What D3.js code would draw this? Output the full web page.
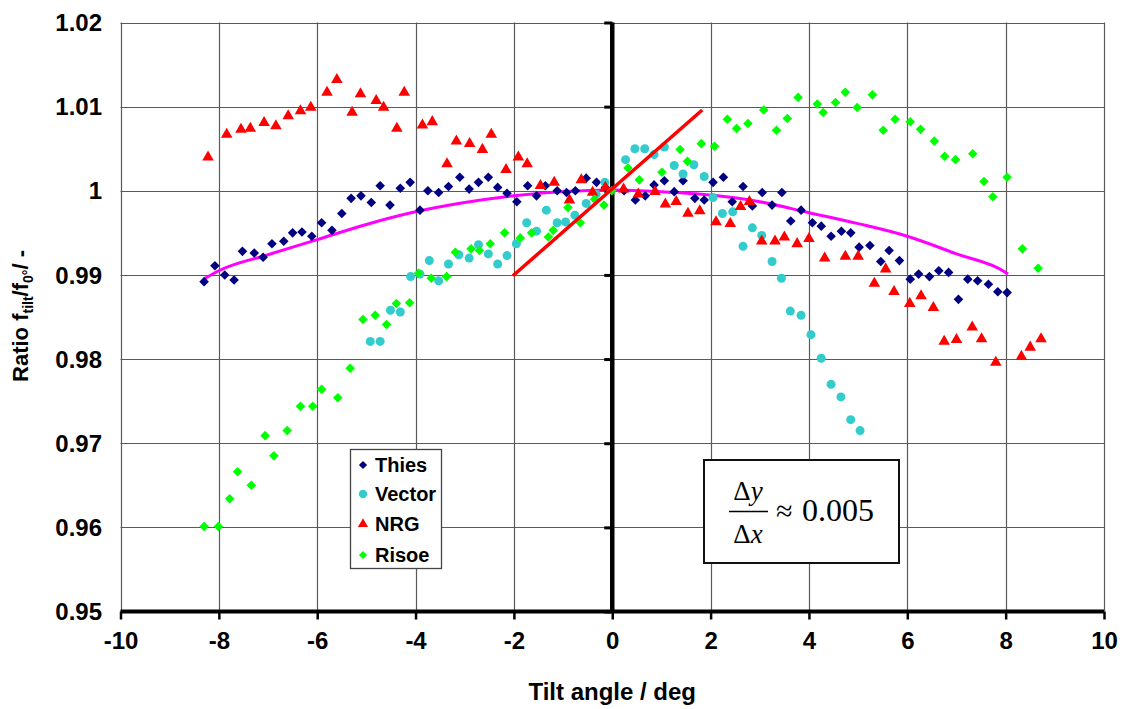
<!DOCTYPE html>
<html>
<head>
<meta charset="utf-8">
<script src="https://d3js.org/d3.v7.min.js"></script>
<style>
  html, body { margin: 0; padding: 0; background: #fff; }
  svg { display: block; }
</style>
</head>
<body>
<svg id="chart" width="1122" height="709"></svg>
<script>
// ---------------- DATA ----------------
const xTicks = [-10, -8, -6, -4, -2, 0, 2, 4, 6, 8, 10];
const yTicks = [0.95, 0.96, 0.97, 0.98, 0.99, 1.0, 1.01, 1.02];
const yTickLabels = ["0.95", "0.96", "0.97", "0.98", "0.99", "1", "1.01", "1.02"];
const seriesNames = ["Thies", "Vector", "NRG", "Risoe"];

const thies = [
  [-8.30,0.9892],[-8.08,0.9911],[-7.88,0.9900],[-7.69,0.9894],[-7.52,0.9928],[-7.28,0.9926],
  [-7.10,0.9921],[-6.92,0.9937],[-6.68,0.9940],[-6.50,0.9950],[-6.31,0.9951],[-6.11,0.9946],
  [-5.91,0.9962],[-5.70,0.9953],[-5.50,0.9973],[-5.31,0.9991],[-5.11,0.9994],[-4.90,0.9986],
  [-4.72,1.0006],[-4.52,0.9983],[-4.31,1.0003],[-4.11,1.0010],[-3.91,0.9977],[-3.75,1.0000],
  [-3.53,0.9998],[-3.33,1.0005],[-3.10,1.0016],[-2.91,1.0002],[-2.72,1.0010],[-2.52,1.0016],
  [-2.33,1.0004],[-2.14,0.9997],[-1.94,0.9987],[-1.72,1.0006],[-1.54,0.9994],[-1.36,1.0006],
  [-1.12,1.0000],[-0.93,0.9998],[-0.75,1.0000],[-0.53,1.0015],[-0.32,1.0010],[-0.14,1.0004],
  [0.24,1.0000],[0.47,0.9989],[0.67,0.9994],[0.85,1.0007],[1.06,1.0012],[1.26,0.9999],
  [1.44,1.0012],[1.68,0.9991],[1.87,0.9989],[2.05,1.0010],[2.26,1.0016],[2.44,0.9987],
  [2.66,1.0005],[2.85,0.9982],[3.05,0.9998],[3.25,0.9983],[3.45,0.9998],[3.63,0.9964],
  [3.84,0.9977],[4.07,0.9962],[4.25,0.9958],[4.45,0.9946],[4.66,0.9952],[4.85,0.9950],
  [5.02,0.9933],[5.24,0.9935],[5.46,0.9916],[5.63,0.9929],[5.84,0.9917],[6.06,0.9895],
  [6.23,0.9901],[6.45,0.9898],[6.64,0.9905],[6.84,0.9903],[7.04,0.9871],[7.23,0.9895],
  [7.43,0.9893],[7.65,0.9889],[7.84,0.9880],[8.03,0.9879]
];

const vector = [
  [-4.92,0.9821],[-4.72,0.9821],[-4.51,0.9858],[-4.31,0.9856],[-4.10,0.9898],[-3.91,0.9901],
  [-3.72,0.9917],[-3.53,0.9893],[-3.33,0.9913],[-3.12,0.9924],[-2.91,0.9920],[-2.72,0.9936],
  [-2.52,0.9925],[-2.33,0.9913],[-2.14,0.9923],[-1.95,0.9937],[-1.74,0.9962],[-1.54,0.9952],
  [-1.34,0.9977],[-1.12,0.9962],[-0.95,0.9963],[-0.76,0.9971],[-0.53,0.9985],[-0.33,0.9996],
  [-0.15,1.0010],[0.27,1.0037],[0.46,1.0050],[0.66,1.0050],[0.85,1.0043],[1.06,1.0052],
  [1.26,1.0030],[1.44,1.0020],[1.66,1.0031],[1.87,1.0017],[2.05,0.9992],[2.24,0.9973],
  [2.45,0.9975],[2.66,0.9934],[2.85,0.9956],[3.04,0.9947],[3.25,0.9916],[3.44,0.9896],
  [3.62,0.9857],[3.84,0.9852],[4.04,0.9829],[4.25,0.9801],[4.45,0.9770],[4.65,0.9755],
  [4.85,0.9728],[5.04,0.9715]
];

const nrg = [
  [-8.22,1.0040],[-7.84,1.0067],[-7.55,1.0073],[-7.36,1.0074],[-7.08,1.0081],[-6.84,1.0077],
  [-6.59,1.0089],[-6.34,1.0095],[-6.13,1.0099],[-5.80,1.0117],[-5.60,1.0132],[-5.29,1.0093],
  [-5.12,1.0115],[-4.80,1.0107],[-4.65,1.0099],[-4.38,1.0074],[-4.23,1.0117],[-3.86,1.0078],
  [-3.66,1.0082],[-3.36,1.0032],[-3.17,1.0059],[-2.90,1.0056],[-2.64,1.0049],[-2.46,1.0067],
  [-2.16,1.0025],[-1.91,1.0040],[-1.73,1.0032],[-1.46,1.0006],[-1.18,1.0010],[-0.87,0.9989],
  [-0.63,1.0013],[-0.40,0.9998],[-0.14,1.0004],[0.23,1.0002],[0.53,0.9996],[0.87,0.9999],
  [1.08,0.9984],[1.30,0.9987],[1.54,0.9973],[1.78,0.9976],[2.11,0.9963],[2.40,0.9961],
  [2.61,0.9981],[2.79,0.9987],[3.04,0.9940],[3.31,0.9940],[3.50,0.9945],[3.76,0.9937],
  [4.00,0.9943],[4.32,0.9920],[4.74,0.9922],[5.00,0.9922],[5.33,0.9890],[5.56,0.9907],
  [5.73,0.9880],[6.05,0.9866],[6.28,0.9875],[6.53,0.9861],[6.75,0.9821],[7.00,0.9823],
  [7.32,0.9838],[7.51,0.9824],[7.80,0.9796],[8.32,0.9803],[8.50,0.9814],[8.72,0.9824]
];

const risoe = [
  [-8.30,0.9601],[-8.01,0.9601],[-7.78,0.9634],[-7.62,0.9666],[-7.34,0.9650],[-7.06,0.9709],
  [-6.88,0.9685],[-6.61,0.9715],[-6.34,0.9744],[-6.09,0.9744],[-5.91,0.9764],[-5.58,0.9754],
  [-5.33,0.9789],[-5.07,0.9847],[-4.82,0.9852],[-4.59,0.9841],[-4.39,0.9866],[-4.12,0.9867],
  [-3.94,0.9902],[-3.68,0.9896],[-3.37,0.9898],[-3.19,0.9927],[-2.87,0.9931],[-2.70,0.9929],
  [-2.48,0.9937],[-2.19,0.9950],[-1.87,0.9944],[-1.64,0.9950],[-1.30,0.9945],[-1.20,0.9953],
  [-0.90,0.9980],[-0.65,0.9962],[-0.36,0.9990],[-0.17,0.9983],[-0.01,1.0000],[0.32,1.0027],
  [0.55,1.0013],[1.01,1.0022],[1.38,1.0049],[1.53,1.0035],[1.81,1.0056],[2.08,1.0053],
  [2.34,1.0085],[2.53,1.0074],[2.76,1.0080],[3.08,1.0096],[3.34,1.0072],[3.56,1.0086],
  [3.78,1.0111],[4.17,1.0103],[4.29,1.0093],[4.54,1.0105],[4.74,1.0117],[4.98,1.0099],
  [5.29,1.0114],[5.51,1.0072],[5.75,1.0085],[6.06,1.0082],[6.27,1.0073],[6.55,1.0059],
  [6.76,1.0041],[6.98,1.0037],[7.33,1.0044],[7.56,1.0011],[7.74,0.9993],[8.03,1.0016],
  [8.34,0.9931],[8.66,0.9908]
];

// magenta trend curve
const trend = [
  [-8.28,0.9896],[-8,0.9905],[-7,0.9924],[-6,0.9942],[-5,0.9960],[-4,0.9975],[-3,0.9986],
  [-2,0.9994],[-1,0.9999],[0,1.0001],[1,0.9999],[2,0.9995],[3,0.9987],[4,0.9974],
  [5,0.9961],[6,0.9946],[7,0.9925],[8,0.9903],[8.05,0.9901]
];

// red slope line
const slopeLine = [[-2.02,0.9899],[1.83,1.0096]];

// ---------------- LAYOUT ----------------
const svg = d3.select("#chart");
const X0 = 120.5, X1 = 1104, Y0 = 611.5, Y1 = 22.5;
const x = d3.scaleLinear().domain([-10, 10]).range([X0, X1]);
const y = d3.scaleLinear().domain([0.95, 1.02]).range([Y0, Y1]);

const FONT = "'Liberation Sans', Arial, Helvetica, sans-serif";
const SERIF = "'Liberation Serif', 'Times New Roman', Times, serif";

// gridlines
const grid = svg.append("g");
grid.selectAll("line.h").data(yTicks).join("line")
  .attr("x1", X0).attr("x2", X1)
  .attr("y1", d => Math.round(y(d)) + 0.5).attr("y2", d => Math.round(y(d)) + 0.5)
  .attr("stroke", "#5a5a5a").attr("stroke-width", 1.2);
grid.selectAll("line.v").data(xTicks).join("line")
  .attr("y1", Y1).attr("y2", Y0)
  .attr("x1", d => Math.round(x(d)) + 0.5).attr("x2", d => Math.round(x(d)) + 0.5)
  .attr("stroke", "#5a5a5a").attr("stroke-width", 1.2);

// bottom axis (thick) with ticks
const xAxis = d3.axisBottom(x).tickValues(xTicks).tickSize(8).tickPadding(12)
  .tickFormat(d => d3.format("d")(d).replace("−", "-"));
const gx = svg.append("g").attr("transform", `translate(0,${Y0})`).call(xAxis);
gx.select(".domain").attr("stroke", "#000").attr("stroke-width", 4).attr("d", `M${X0},0H${X1}`);
gx.selectAll(".tick line").attr("stroke", "#000").attr("stroke-width", 2.5);
gx.selectAll(".tick text").attr("font-family", FONT).attr("font-weight", "bold")
  .attr("font-size", 24).attr("fill", "#000");

// y axis at x = 0 (thick) with tick marks; labels on the left of the plot
const yAxis = d3.axisLeft(y).tickValues(yTicks).tickSize(8).tickFormat("");
const gy = svg.append("g").attr("transform", `translate(${x(0)},0)`).call(yAxis);
gy.select(".domain").attr("stroke", "#000").attr("stroke-width", 4.5).attr("d", `M0,${Y1}V${Y0}`);
gy.selectAll(".tick line").attr("stroke", "#000").attr("stroke-width", 3);

svg.append("g").selectAll("text").data(yTicks).join("text")
  .attr("x", 102).attr("y", d => y(d)).attr("dy", "0.36em")
  .attr("text-anchor", "end")
  .attr("font-family", FONT).attr("font-weight", "bold").attr("font-size", 24)
  .text((d, i) => yTickLabels[i]);

// axis titles
svg.append("text").attr("x", x(0)).attr("y", 700).attr("text-anchor", "middle")
  .attr("font-family", FONT).attr("font-weight", "bold").attr("font-size", 24)
  .text("Tilt angle / deg");

const yt = svg.append("text")
  .attr("transform", "translate(28,316) rotate(-90)")
  .attr("text-anchor", "middle")
  .attr("font-family", FONT).attr("font-weight", "bold").attr("font-size", 22);
yt.append("tspan").text("Ratio f");
yt.append("tspan").attr("font-size", 14).attr("dy", 5).text("tilt");
yt.append("tspan").attr("dy", -5).text("/f");
yt.append("tspan").attr("font-size", 14).attr("dy", 5).text("0°");
yt.append("tspan").attr("dy", -5).text("/ -");

// ---------------- SERIES ----------------
// trend line
svg.append("path").datum(trend)
  .attr("d", d3.line().x(d => x(d[0])).y(d => y(d[1])).curve(d3.curveMonotoneX))
  .attr("fill", "none").attr("stroke", "#ff00ff").attr("stroke-width", 3);

// square diamonds (square rotated 45 degrees)
const diamond = d3.symbol().type(d3.symbolSquare).size(46);
const triangle = d3.symbol().type(d3.symbolTriangle).size(58);

svg.append("g").selectAll("path").data(thies).join("path")
  .attr("transform", d => `translate(${x(d[0])},${y(d[1])}) rotate(45)`)
  .attr("d", diamond).attr("fill", "#000080");

svg.append("g").selectAll("circle").data(vector).join("circle")
  .attr("cx", d => x(d[0])).attr("cy", d => y(d[1])).attr("r", 4.5)
  .attr("fill", "#33cccc");

svg.append("g").selectAll("path").data(nrg).join("path")
  .attr("transform", d => `translate(${x(d[0])},${y(d[1])})`)
  .attr("d", triangle).attr("fill", "#ff0000");

svg.append("g").selectAll("path").data(risoe).join("path")
  .attr("transform", d => `translate(${x(d[0])},${y(d[1])}) rotate(45)`)
  .attr("d", diamond).attr("fill", "#00ff00");

// red slope line
svg.append("path").datum(slopeLine)
  .attr("d", d3.line().x(d => x(d[0])).y(d => y(d[1])))
  .attr("stroke", "#ff0000").attr("stroke-width", 3.5).attr("fill", "none");

// ---------------- LEGEND ----------------
const legendColors = ["#000080", "#33cccc", "#ff0000", "#00ff00"];
const legendY = [465, 494, 524, 555];
const lg = svg.append("g");
lg.append("rect").attr("x", 350.5).attr("y", 449.5).attr("width", 91).attr("height", 119)
  .attr("fill", "#fff").attr("stroke", "#444").attr("stroke-width", 1.3);
seriesNames.forEach((name, i) => {
  const mx = 363, my = legendY[i];
  if (i === 1) {
    lg.append("circle").attr("cx", mx).attr("cy", my).attr("r", 4.2).attr("fill", legendColors[i]);
  } else if (i === 2) {
    lg.append("path").attr("transform", `translate(${mx},${my})`)
      .attr("d", d3.symbol().type(d3.symbolTriangle).size(44)).attr("fill", legendColors[i]);
  } else {
    lg.append("path").attr("transform", `translate(${mx},${my}) rotate(45)`)
      .attr("d", d3.symbol().type(d3.symbolSquare).size(34)).attr("fill", legendColors[i]);
  }
  lg.append("text").attr("x", 375).attr("y", my).attr("dy", "0.36em")
    .attr("font-family", FONT).attr("font-weight", "bold").attr("font-size", 20)
    .text(name);
});

// ---------------- ANNOTATION BOX ----------------
const ab = svg.append("g");
ab.append("rect").attr("x", 704).attr("y", 460).attr("width", 195).attr("height", 103)
  .attr("fill", "#fff").attr("stroke", "#111").attr("stroke-width", 2);
const t1 = ab.append("text").attr("x", 748).attr("y", 500).attr("text-anchor", "middle")
  .attr("font-family", SERIF).attr("font-size", 27);
t1.append("tspan").text("Δ");
t1.append("tspan").attr("font-style", "italic").text("y");
ab.append("line").attr("x1", 729).attr("x2", 768).attr("y1", 511.5).attr("y2", 511.5)
  .attr("stroke", "#000").attr("stroke-width", 1.5);
const t2 = ab.append("text").attr("x", 748).attr("y", 543).attr("text-anchor", "middle")
  .attr("font-family", SERIF).attr("font-size", 27);
t2.append("tspan").text("Δ");
t2.append("tspan").attr("font-style", "italic").text("x");
ab.append("text").attr("x", 776).attr("y", 521)
  .attr("font-family", SERIF).attr("font-size", 30).text("≈");
ab.append("text").attr("x", 802).attr("y", 521)
  .attr("font-family", SERIF).attr("font-size", 32).text("0.005");
</script>
</body>
</html>
